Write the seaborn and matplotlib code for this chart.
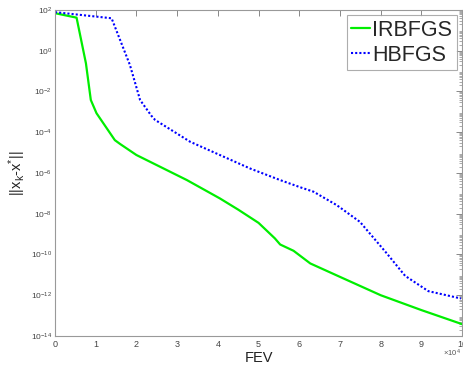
import numpy as np
import pandas as pd
import matplotlib
matplotlib.use("Agg")
import matplotlib.pyplot as plt
import matplotlib.ticker as mticker
import seaborn as sns

# FEV values (in units of 1e4) and log10 error values
irbfgs_fev = [0.0, 0.53, 0.76, 0.88, 1.02, 1.47, 1.6, 2.0, 3.24, 4.05, 4.5, 5.0, 5.4, 5.53, 5.86, 6.27, 7.0, 8.0, 9.0, 10.0]
irbfgs_log = [1.84, 1.62, -0.62, -2.42, -3.07, -4.39, -4.58, -5.12, -6.35, -7.25, -7.8, -8.45, -9.21, -9.51, -9.82, -10.44, -11.1, -12.0, -12.73, -13.42]

hbfgs_fev = [0.0, 1.39, 1.84, 2.09, 2.37, 2.46, 3.32, 4.79, 5.53, 6.02, 6.35, 6.92, 7.49, 8.15, 8.6, 9.17, 9.97]
hbfgs_log = [1.89, 1.59, -0.70, -2.42, -3.20, -3.40, -4.47, -5.78, -6.35, -6.70, -6.92, -7.58, -8.4, -9.95, -11.05, -11.8, -12.16]

series_names = ["IRBFGS", "HBFGS"]
y_ticks_exp = [2, 0, -2, -4, -6, -8, -10, -12, -14]
x_tick_labels = ["0", "1", "2", "3", "4", "5", "6", "7", "8", "9", "10"]

df = pd.concat([
    pd.DataFrame({"FEV": np.array(irbfgs_fev) * 1e4, "err": 10.0 ** np.array(irbfgs_log), "method": series_names[0]}),
    pd.DataFrame({"FEV": np.array(hbfgs_fev) * 1e4, "err": 10.0 ** np.array(hbfgs_log), "method": series_names[1]}),
])

sns.set_style("white")
plt.rcParams["font.family"] = ["Liberation Sans", "DejaVu Sans"]
plt.rcParams["mathtext.fontset"] = "custom"
plt.rcParams["mathtext.rm"] = "Liberation Sans"
plt.rcParams["mathtext.it"] = "Liberation Sans:italic"

fig = plt.figure(figsize=(4.64, 3.67), dpi=100)
ax = fig.add_axes([0.1185, 0.0845, 0.8775, 0.8885])

d1 = df[df.method == series_names[0]]
d2 = df[df.method == series_names[1]]
sns.lineplot(data=d1, x="FEV", y="err", ax=ax, color="#00ee00", linewidth=1.6, label=series_names[0], sort=False)
sns.lineplot(data=d2, x="FEV", y="err", ax=ax, color="#0000ff", linewidth=1.5, linestyle=(0, (1, 1)), label=series_names[1], sort=False)

ax.set_yscale("log")
ax.set_xlim(0, 1e5)
ax.set_ylim(1e-14, 1e2)
ax.set_yticks([10.0 ** e for e in y_ticks_exp])
ax.yaxis.set_major_formatter(mticker.LogFormatterMathtext())
ax.yaxis.set_minor_locator(mticker.LogLocator(base=10, subs=np.arange(2, 10), numticks=100))
ax.yaxis.set_minor_formatter(mticker.NullFormatter())
ax.set_xticks(np.arange(0, 1.01e5, 1e4))
ax.set_xticklabels(x_tick_labels)
ax.text(0.975, -0.052, r"$\times10^4$", transform=ax.transAxes, fontsize=5.5, color="#555555",
        ha="center", va="center")

ax.tick_params(axis="both", which="both", direction="in", top=True, right=True,
               colors="#888888", labelcolor="#444444")
ax.tick_params(axis="y", labelsize=6, pad=2)
ax.tick_params(axis="x", labelsize=6.5, pad=3)
ax.tick_params(which="major", length=4, width=0.7)
ax.tick_params(which="minor", length=2, width=0.5)
for s in ax.spines.values():
    s.set_color("#999999")
    s.set_linewidth(0.8)

ax.set_xlabel("FEV", fontsize=10.5, color="#222222", labelpad=1)
ax.set_ylabel(r"||x$_\mathregular{k}$-x$^\mathregular{*}$||", fontsize=10.5, color="#222222", labelpad=2)

leg = ax.legend(loc="upper right", fontsize=15.5, frameon=True, fancybox=False,
                edgecolor="#999999", handlelength=0.9, handletextpad=0.1,
                borderpad=0.2, labelspacing=0.2, borderaxespad=0.25)
leg.get_frame().set_linewidth(0.8)

fig.savefig("out.png", dpi=100)
